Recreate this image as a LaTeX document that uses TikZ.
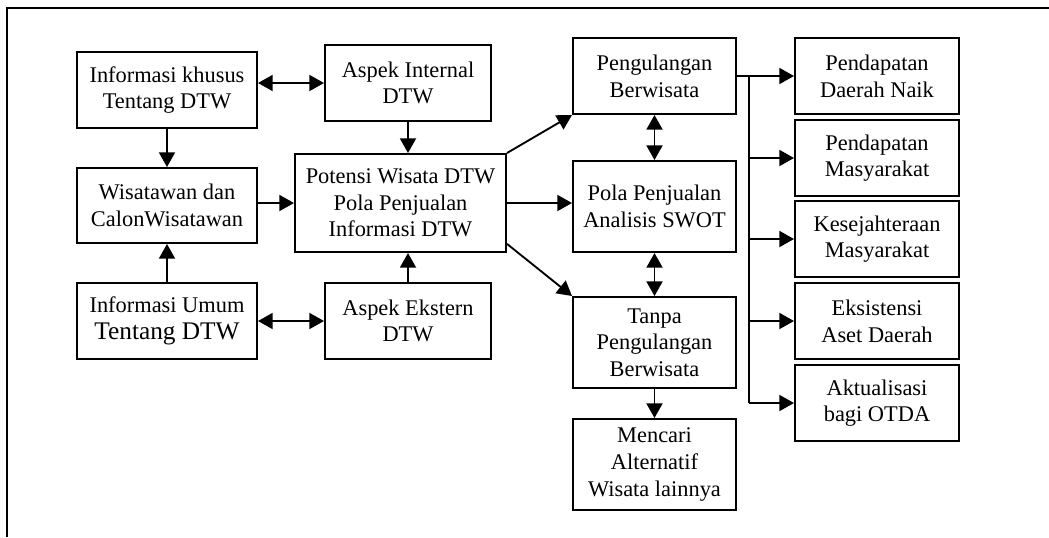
\documentclass[tikz,border=0pt]{standalone}
\usepackage{fontspec}
\setmainfont{Liberation Serif}
\usetikzlibrary{arrows.meta,positioning}
\tikzset{>={Triangle[length=11pt,width=12pt]},every node/.style={font=\fontsize{16.8}{20}\selectfont},
 block/.style={draw,line width=1.5pt,minimum height=57pt,inner sep=2pt,align=center},
 link/.style={line width=1.4pt}}
\newcommand{\bigline}[1]{{\fontsize{19}{22}\selectfont #1}}

\begin{document}
\begin{tikzpicture}[x=0.75pt,y=-0.75pt]
\useasboundingbox (0,0) rectangle (1049,537);
\draw[line width=1.5pt] (7,537) -- (7,8) -- (1049,8);
% sumber informasi
\node[block,minimum width=135pt] (khusus) at (167,90) {Informasi khusus\\Tentang DTW};
\node[block,minimum width=135pt,minimum height=56.25pt] (wisatawan) at (167,205.5) {Wisatawan dan\\CalonWisatawan};
\node[block,minimum width=135pt] (umum) at (167,321) {Informasi Umum\\\bigline{Tentang DTW}};
\node[block,minimum width=124.5pt] (internal) at (408,83) {Aspek Internal\\DTW};
\node[block,minimum width=158.25pt,minimum height=73.5pt] (potensi) at (400.5,203) {Potensi Wisata DTW\\Pola Penjualan\\Informasi DTW};
\node[block,minimum width=124.5pt] (ekstern) at (408,321) {Aspek Ekstern\\DTW};
% pola kunjungan
\node[block,minimum width=122.25pt] (ulang) at (654.5,76) {Pengulangan\\Berwisata};
\node[block,minimum width=122.25pt,minimum height=68.25pt] (swot) at (654.5,206.5) {Pola Penjualan\\Analisis SWOT};
\node[block,minimum width=122.25pt,minimum height=68.25pt] (tanpa) at (654.5,342.5) {Tanpa\\Pengulangan\\Berwisata};
\node[block,minimum width=122.25pt,minimum height=68.25pt] (cari) at (654.5,464.5) {Mencari\\Alternatif\\Wisata lainnya};
% dampak
\node[block,minimum width=123pt] (daerah) at (877,76) {Pendapatan\\Daerah Naik};
\node[block,minimum width=123pt] (masy) at (877,158) {Pendapatan\\Masyarakat};
\node[block,minimum width=123pt] (sejahtera) at (877,239) {Kesejahteraan\\Masyarakat};
\node[block,minimum width=123pt] (eksis) at (877,321) {Eksistensi\\Aset Daerah};
\node[block,minimum width=123pt] (otda) at (877,403) {Aktualisasi\\bagi OTDA};
\coordinate (bus) at (749,76);

\draw[link,<->] (khusus.east |- internal.west) -- (internal.west);
\draw[link,->] (khusus) -- (wisatawan);
\draw[link,->] (umum) -- (wisatawan);
\draw[link,<->] (umum) -- (ekstern);
\draw[link,->] (internal.south) -- (internal.south |- potensi.north);
\draw[link,->] (ekstern.north) -- (ekstern.north |- potensi.south);
\draw[link,->] (potensi.west -| wisatawan.east) -- (potensi.west);
\draw[link,->] (potensi.north east) -- (ulang.south west);
\draw[link,->] (potensi.east) -- (potensi.east -| swot.west);
\draw[link,->] (potensi.-21) -- (tanpa.north west);
\draw[link,<->] (ulang) -- (swot);
\draw[link,<->] (swot) -- (tanpa);
\draw[link,->] (tanpa) -- (cari);
\draw[link,->] (ulang) -- (daerah);
\draw[link] (bus) -- (bus |- otda.west);
\foreach \n in {masy,sejahtera,eksis,otda}
  \draw[link,->] (bus |- \n.west) -- (\n.west);
\end{tikzpicture}
\end{document}
